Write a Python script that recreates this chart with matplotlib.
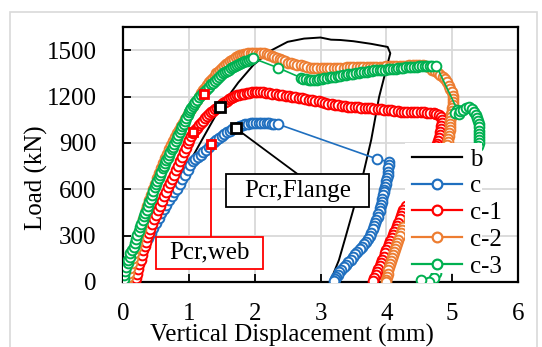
import matplotlib.patches as patches
import matplotlib.pyplot as plt
from matplotlib.lines import Line2D

plt.rcParams["font.family"] = ["Liberation Serif", "DejaVu Serif"]

# ---- data ----
b_x = [0.0, 0.3, 0.6, 0.9, 1.2, 1.48, 1.75, 1.98, 2.24, 2.5, 2.75, 3.0, 3.16, 3.3,
       3.5, 3.77, 4.02, 4.06, 4.0, 3.89, 3.77, 3.65, 3.51, 3.38, 3.28, 3.2, 3.15]
b_y = [0, 230, 460, 690, 920, 1132, 1290, 1404, 1496, 1554, 1575, 1582, 1568, 1566,
       1558, 1541, 1521, 1480, 1380, 1197, 919, 700, 486, 290, 142, 58, 0]

c_x = [0.02, 0.06, 0.10, 0.14, 0.18, 0.22, 0.26, 0.30, 0.34, 0.38, 0.42, 0.46, 0.50,
       0.54, 0.58, 0.62, 0.66, 0.70, 0.74, 0.78, 0.82, 0.86, 0.90, 0.94, 0.98, 1.02,
       1.06, 1.10, 1.14, 1.18, 1.22, 1.26, 1.30, 1.34, 1.38, 1.42, 1.46, 1.50, 1.54,
       1.58, 1.62, 1.66, 1.70, 1.74, 1.78, 1.82, 1.86, 1.90, 1.94, 1.98, 2.02, 2.06,
       2.10, 2.14, 2.18, 2.22, 2.26, 2.30, 2.35,
       3.86, 4.04, 4.04, 4.03, 4.03, 4.02, 4.01, 4.0, 3.99, 3.98, 3.97, 3.96, 3.95,
       3.94, 3.93, 3.92, 3.91, 3.9, 3.88, 3.87, 3.85, 3.83, 3.81, 3.79, 3.77, 3.75,
       3.72, 3.69, 3.66, 3.63, 3.6, 3.56, 3.53, 3.5, 3.46, 3.42, 3.38, 3.35, 3.31,
       3.28, 3.26, 3.24, 3.22, 3.21]
c_y = [0, 20, 50, 80, 115, 150, 180, 215, 250, 285, 320, 350, 385,
       415, 445, 475, 500, 530, 555, 580, 605, 635, 665, 695, 725, 760,
       780, 795, 810, 825, 840, 855, 875, 893, 905, 920, 932, 945, 957,
       968, 978, 987, 996, 1003, 1010, 1015, 1020, 1024, 1027, 1029, 1030, 1031,
       1031, 1030, 1029, 1027, 1025, 1023, 1022,
       796, 777, 755, 735, 715, 695, 675, 655, 635, 615, 598, 580, 560,
       540, 520, 500, 480, 462, 442, 421, 400, 380, 360, 340, 320, 300,
       280, 262, 245, 228, 212, 195, 178, 162, 145, 128, 112, 97, 80,
       62, 45, 30, 17, 5]

c1_x = [0.18, 0.19, 0.21, 0.23, 0.25, 0.27, 0.29, 0.31, 0.33, 0.35, 0.37, 0.39, 0.41,
        0.44, 0.47, 0.5, 0.53, 0.56, 0.59, 0.62, 0.65, 0.68, 0.71, 0.74, 0.77, 0.8,
        0.83, 0.86, 0.89, 0.92, 0.95, 0.98, 1.01, 1.04, 1.07, 1.1, 1.13, 1.16, 1.19,
        1.22, 1.25, 1.28, 1.31, 1.34, 1.37, 1.4, 1.43, 1.46, 1.49, 1.52, 1.55, 1.58,
        1.61, 1.64, 1.67, 1.7, 1.73, 1.76, 1.8, 1.84, 1.88, 1.92, 1.96, 2.0, 2.04,
        2.08, 2.12, 2.17, 2.22, 2.27, 2.32, 2.37, 2.42, 2.47, 2.52, 2.57, 2.62, 2.67,
        2.72, 2.77, 2.82, 2.87, 2.92, 2.97, 3.02, 3.07, 3.12, 3.17, 3.22, 3.27, 3.32,
        3.37, 3.42, 3.47, 3.52, 3.57, 3.62, 3.67, 3.72, 3.77, 3.82, 3.87, 3.92, 3.97,
        4.02, 4.07, 4.12, 4.17, 4.22, 4.27, 4.32, 4.37, 4.42, 4.47, 4.52, 4.57, 4.62,
        4.67, 4.72, 4.76, 4.8, 4.83, 4.84, 4.84, 4.83, 4.83, 4.82, 4.81, 4.8, 4.79,
        4.77, 4.75, 4.7, 4.6, 4.5, 4.4, 4.3, 4.26, 4.24, 4.22, 4.2, 4.18, 4.16, 4.14,
        4.12, 4.1, 4.08, 4.06, 4.04, 4.02, 4.0, 3.98, 3.96, 3.94, 3.92, 3.9, 3.88,
        3.86, 3.84, 3.82, 3.8]
c1_y = [0, 25, 55, 85, 115, 145, 175, 205, 235, 262, 290, 318, 345,
        375, 405, 435, 465, 495, 525, 555, 585, 612, 640, 668, 695, 722,
        752, 782, 812, 842, 870, 897, 922, 945, 965, 982, 998, 1014, 1030,
        1045, 1060, 1074, 1087, 1098, 1108, 1118, 1128, 1138, 1148, 1157, 1166, 1174,
        1182, 1189, 1196, 1202, 1207, 1211, 1215, 1219, 1222, 1225, 1227, 1228, 1229,
        1229, 1228, 1226, 1222, 1218, 1215, 1211, 1208, 1205, 1202, 1198, 1195, 1193,
        1189, 1185, 1180, 1176, 1172, 1168, 1163, 1159, 1155, 1151, 1147, 1143, 1140,
        1138, 1135, 1133, 1131, 1130, 1128, 1127, 1126, 1124, 1121, 1119, 1117, 1115,
        1113, 1110, 1107, 1104, 1102, 1101, 1100, 1099, 1099, 1098, 1098, 1097, 1096,
        1095, 1094, 1090, 1080, 1068, 1050, 1030, 1010, 990, 970, 950, 930, 915,
        895, 880, 800, 700, 620, 550, 490, 466, 445, 425, 405, 385, 365, 345,
        325, 305, 285, 265, 245, 225, 205, 185, 165, 145, 125, 105, 85,
        65, 45, 25, 5]

c2_x = [0.05, 0.07, 0.09, 0.11, 0.13, 0.15, 0.17, 0.19, 0.21, 0.23, 0.25, 0.27, 0.29,
        0.31, 0.33, 0.35, 0.37, 0.4, 0.43, 0.46, 0.49, 0.52, 0.55, 0.58, 0.61, 0.64,
        0.67, 0.7, 0.73, 0.76, 0.79, 0.82, 0.85, 0.88, 0.91, 0.94, 0.97, 1.0, 1.03,
        1.06, 1.09, 1.12, 1.15, 1.18, 1.21, 1.24, 1.27, 1.3, 1.33, 1.36, 1.39, 1.42,
        1.45, 1.48, 1.51, 1.54, 1.57, 1.6, 1.63, 1.66, 1.69, 1.72, 1.75, 1.78, 1.81,
        1.84, 1.87, 1.9, 1.94, 1.98, 2.02, 2.06, 2.1, 2.14, 2.18, 2.22, 2.26, 2.3,
        2.34, 2.38, 2.42, 2.46, 2.5, 2.55, 2.6, 2.65, 2.7, 2.75, 2.8, 2.85, 2.9,
        2.95, 3.0, 3.05, 3.1, 3.15, 3.2, 3.25, 3.3, 3.35, 3.4, 3.45, 3.5, 3.55,
        3.6, 3.65, 3.7, 3.75, 3.8, 3.85, 3.9, 3.95, 4.0, 4.05, 4.1, 4.15, 4.2,
        4.25, 4.3, 4.35, 4.4, 4.45, 4.5, 4.55, 4.6, 4.65, 4.7, 4.74, 4.78, 4.82,
        4.86, 4.89, 4.92, 4.95, 4.97, 4.99, 5.01, 5.02, 5.02, 5.01, 5.0, 4.99, 4.98,
        4.98, 4.97, 4.97, 4.96, 4.96, 4.95, 4.95, 4.94, 4.93, 4.92, 4.8, 4.65, 4.5,
        4.35, 4.26, 4.24, 4.22, 4.2, 4.18, 4.16, 4.15, 4.13, 4.11, 4.1, 4.08, 4.07,
        4.05, 4.04, 4.03, 4.02, 4.01, 4.0, 3.99]
c2_y = [0, 30, 60, 90, 120, 155, 190, 220, 255, 285, 315, 345, 375,
        405, 435, 465, 492, 530, 565, 600, 635, 670, 705, 738, 770, 800,
        830, 858, 885, 912, 938, 962, 985, 1008, 1030, 1052, 1075, 1097, 1118,
        1140, 1160, 1180, 1200, 1220, 1240, 1258, 1275, 1292, 1308, 1322, 1336, 1350,
        1362, 1374, 1386, 1397, 1408, 1418, 1428, 1437, 1445, 1453, 1460, 1466, 1471,
        1475, 1478, 1481, 1483, 1484, 1485, 1484, 1483, 1481, 1476, 1470, 1464, 1457,
        1450, 1442, 1434, 1427, 1420, 1414, 1410, 1407, 1404, 1398, 1391, 1386, 1384,
        1384, 1384, 1384, 1385, 1385, 1386, 1386, 1387, 1387, 1388, 1388, 1389, 1389,
        1390, 1390, 1391, 1391, 1392, 1392, 1393, 1394, 1395, 1396, 1397, 1397, 1398,
        1399, 1400, 1401, 1401, 1402, 1402, 1402, 1398, 1388, 1375, 1364, 1352, 1340,
        1328, 1312, 1293, 1270, 1250, 1228, 1205, 1185, 1165, 1145, 1125, 1105, 1085,
        1065, 1045, 1025, 1005, 985, 965, 945, 925, 905, 885, 750, 620, 500,
        410, 355, 335, 315, 295, 275, 255, 235, 215, 195, 175, 155, 135,
        115, 95, 75, 55, 35, 15, 0]

c3_x = [0.0, 0.01, 0.02, 0.03, 0.05, 0.07, 0.08, 0.1, 0.11, 0.14, 0.16, 0.18, 0.2,
        0.22, 0.24, 0.26, 0.28, 0.3, 0.32, 0.34, 0.36, 0.38, 0.4, 0.42, 0.44, 0.46,
        0.48, 0.5, 0.52, 0.54, 0.56, 0.58, 0.6, 0.62, 0.64, 0.66, 0.68, 0.7, 0.72,
        0.74, 0.76, 0.78, 0.8, 0.82, 0.84, 0.86, 0.88, 0.9, 0.92, 0.94, 0.96, 0.98,
        1.0, 1.02, 1.04, 1.06, 1.08, 1.1, 1.13, 1.16, 1.19, 1.22, 1.25, 1.28, 1.31,
        1.34, 1.37, 1.4, 1.43, 1.46, 1.49, 1.52, 1.55, 1.58, 1.61, 1.64, 1.67, 1.7,
        1.73, 1.76, 1.79, 1.82, 1.85, 1.88, 1.91, 1.94, 1.98,
        2.36, 2.7, 2.74, 2.78, 2.82, 2.86, 2.9, 2.94, 2.98, 3.02, 3.06, 3.1, 3.14,
        3.18, 3.22, 3.26, 3.3, 3.34, 3.38, 3.42, 3.46, 3.5, 3.54, 3.58, 3.62, 3.66,
        3.7, 3.74, 3.78, 3.82, 3.86, 3.9, 3.94, 3.98, 4.02, 4.06, 4.1, 4.14, 4.18,
        4.22, 4.26, 4.3, 4.34, 4.38, 4.42, 4.46, 4.5, 4.54, 4.58, 4.62, 4.66, 4.7,
        4.76,
        5.08, 5.05, 5.1, 5.12, 5.16, 5.21, 5.26, 5.3, 5.33, 5.36, 5.38, 5.39, 5.4,
        5.41, 5.41, 5.41, 5.41, 5.41, 5.4, 5.39, 5.3, 5.15, 5.0, 4.85, 4.75, 4.73,
        4.65, 4.53]
c3_y = [0, 20, 45, 70, 95, 120, 140, 165, 188, 205, 225, 250, 278,
        305, 330, 356, 378, 400, 424, 447, 468, 490, 515, 540, 565, 590,
        612, 635, 655, 675, 695, 715, 735, 752, 770, 788, 805, 822, 840,
        858, 876, 895, 914, 932, 950, 968, 988, 1007, 1025, 1043, 1062, 1080,
        1097, 1110, 1125, 1140, 1153, 1165, 1180, 1195, 1210, 1222, 1237, 1252, 1265,
        1278, 1290, 1302, 1314, 1325, 1338, 1350, 1358, 1367, 1375, 1384, 1392, 1399,
        1406, 1412, 1418, 1423, 1428, 1433, 1438, 1442, 1447,
        1385, 1322, 1315, 1311, 1308, 1307, 1308, 1310, 1313, 1315, 1318, 1321, 1324,
        1327, 1329, 1332, 1336, 1339, 1342, 1344, 1346, 1348, 1351, 1353, 1356, 1359,
        1362, 1364, 1367, 1369, 1371, 1373, 1374, 1375, 1376, 1377, 1379, 1380, 1382,
        1384, 1386, 1388, 1390, 1391, 1393, 1394, 1395, 1396, 1397, 1398, 1398, 1399,
        1398,
        1113, 1095, 1090, 1105, 1112, 1125, 1133, 1120, 1100, 1081, 1060, 1040, 1020,
        1000, 980, 960, 940, 920, 900, 880, 700, 500, 300, 150, 60, 26,
        3, 13]

# critical load points (web buckling: red, flange buckling: black)
pcr_web_x = [1.23, 1.06, 1.33]
pcr_web_y = [1215, 968, 893]
pcr_flange_x = [1.48, 1.71]
pcr_flange_y = [1132, 996]

labels = ["b", "c", "c-1", "c-2", "c-3"]
colors = ["black", "#1F6FBF", "#FF0000", "#ED7D31", "#00B050"]

fig = plt.figure(figsize=(5.42, 3.47), dpi=100)
fig.patch.set_facecolor("white")
ax = fig.add_axes([123 / 542, 65 / 347, 395 / 542, 255 / 347])

# outer chart frame
fig.patches.append(patches.Rectangle((10 / 542, -0.05), 527 / 542, 1.05 - 12 / 347,
                                     transform=fig.transFigure, fill=False,
                                     edgecolor="#D9D9D9", linewidth=1.2))

mk = dict(marker="o", markerfacecolor="white", markersize=7, markeredgewidth=1.4,
          linewidth=1.2)
ax.plot(b_x, b_y, color=colors[0], linewidth=1.4, zorder=2)
ax.plot(c_x, c_y, color=colors[1], zorder=3, **mk)
ax.plot(c1_x, c1_y, color=colors[2], zorder=3, **mk)
ax.plot(c2_x, c2_y, color=colors[3], zorder=3, **mk)
ax.plot(c3_x, c3_y, color=colors[4], zorder=3, **mk)

# legend area covers the tails of the curves
ax.add_patch(patches.Rectangle((4.28, 58), 1.17, 842, facecolor="white",
                               edgecolor="none", zorder=4))

# annotation pointers and boxes
ax.plot([pcr_web_x[2], pcr_web_x[2]], [pcr_web_y[2], 291], color="#FF0000", lw=1.3, zorder=5)
ax.plot([pcr_flange_x[1], 2.65], [pcr_flange_y[1], 699], color="black", lw=1.3, zorder=5)
ax.plot(pcr_web_x, pcr_web_y, "s", color="#FF0000", markerfacecolor="white",
        markersize=5.5, markeredgewidth=2, zorder=6)
ax.plot(pcr_flange_x, pcr_flange_y, "s", color="black", markerfacecolor="white",
        markersize=6.5, markeredgewidth=2, zorder=6)

ax.add_patch(patches.Rectangle((0.503, 84), 1.616, 207, facecolor="white",
                               edgecolor="#FF0000", linewidth=1.3, zorder=6))
ax.text(1.31, 188, "Pcr,web", fontsize=18, ha="center", va="center", zorder=7)
ax.add_patch(patches.Rectangle((1.57, 485), 2.165, 214, facecolor="white",
                               edgecolor="black", linewidth=1.3, zorder=6))
ax.text(2.65, 592, "Pcr,Flange", fontsize=18, ha="center", va="center", zorder=7)

ax.set_xlim(0, 6)
ax.set_ylim(0, 1650)
ax.set_xticks(range(0, 7))
ax.set_yticks(range(0, 1501, 300))
ax.grid(True, color="#D9D9D9", linewidth=1.3)
ax.set_axisbelow(True)
ax.tick_params(direction="in", length=6, width=1.3, labelsize=18, colors="black")
ax.tick_params(axis="x", pad=15)
ax.tick_params(axis="y", pad=19)
for s in ax.spines.values():
    s.set_linewidth(1.6)
    s.set_color("black")

ax.set_xlabel("Vertical Displacement (mm)", fontsize=18)
ax.set_ylabel("Load (kN)", fontsize=18)
ax.xaxis.set_label_coords(0.428, -0.165)
ax.yaxis.set_label_coords(-0.19, 0.408)

handles = [Line2D([], [], color=colors[0], linewidth=1.6)]
for col in colors[1:]:
    handles.append(Line2D([], [], color=col, marker="o", markerfacecolor="white",
                          markersize=7, markeredgewidth=1.6, linewidth=1.6))
ax.legend(handles, labels, loc="upper left", bbox_to_anchor=(0.732, 0.525),
          frameon=False, fontsize=18, handlelength=2.0, handletextpad=0.3,
          labelspacing=0.17, borderaxespad=0, borderpad=0)

plt.savefig("out.png", dpi=100, facecolor="white")
